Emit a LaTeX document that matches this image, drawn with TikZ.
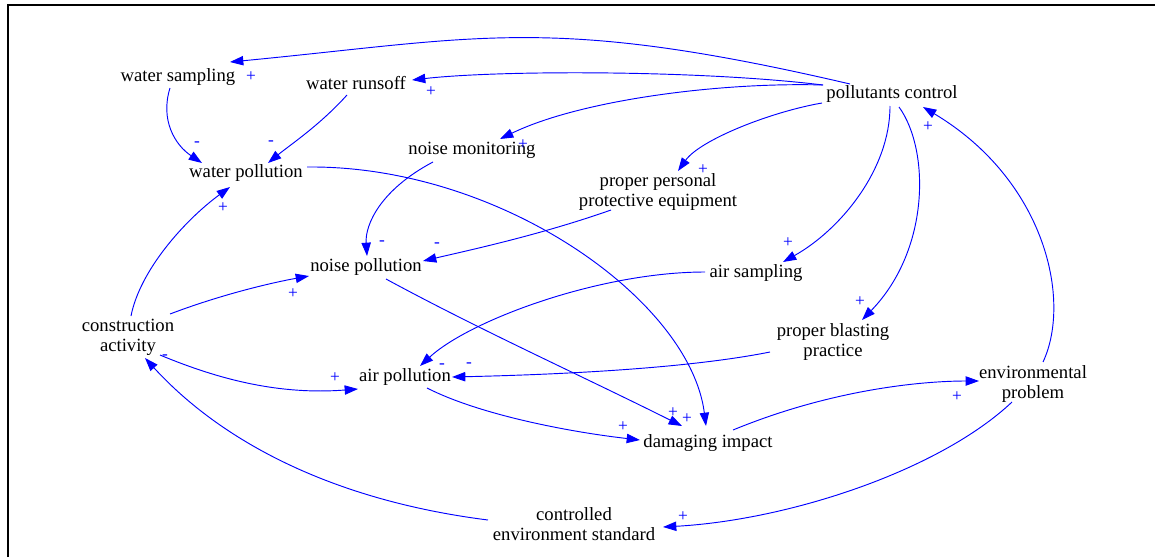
\documentclass[tikz,border=0pt]{standalone}
\usepackage{fontspec}
\setmainfont{Liberation Serif}
\usetikzlibrary{arrows.meta}
\begin{document}
\begin{tikzpicture}[x=0.75pt,y=-0.75pt,
  lbl/.style={inner sep=0pt, align=center, text=black, font=\fontsize{14}{15}\selectfont},
  sgn/.style={inner sep=0pt, text=blue, font=\fontsize{13}{14}\selectfont},
  arr/.style={draw=blue, line width=0.7pt, -{Triangle[length=10pt,width=7pt]}}]
\useasboundingbox (0,0) rectangle (1155,557);
\draw[line width=1.5pt] (7.5,557) -- (7.5,4.5) -- (1155,4.5);
% nodes
\node[lbl] (ws) at (178,77) {water sampling};
\node[lbl] (wr) at (356,83) {water runsoff};
\node[lbl] (wp) at (246,173) {water pollution};
\node[lbl] (pc) at (892,94) {pollutants control};
\node[lbl] (nm) at (472,150) {noise monitoring};
\node[lbl] (ppe) at (658,192) {proper personal\\protective equipment};
\node[lbl] (as) at (756,273) {air sampling};
\node[lbl] (np) at (366,267) {noise pollution};
\node[lbl] (ca) at (128,337) {construction\\activity};
\node[lbl] (ap) at (405,377) {air pollution};
\node[lbl] (pbp) at (833,342) {proper blasting\\practice};
\node[lbl] (ep) at (1033,384) {environmental\\problem};
\node[lbl] (di) at (708,443) {damaging impact};
\node[lbl] (ces) at (574,524) {controlled\\environment standard};
% connectors
\draw[arr] ([shift={(-42,-10)}]pc.center) .. controls (550,14) and (480,38) .. ([shift={(52,-15)}]ws.center);
\draw[arr] ([shift={(-69,-9)}]pc.center) .. controls (700,70) and (500,70) .. ([shift={(56,-3)}]wr.center);
\draw[arr] ([shift={(-69,-9)}]pc.center) .. controls (720,82) and (580,100) .. ([shift={(28,-11)}]nm.center);
\draw[arr] ([shift={(-70,9)}]pc.center) .. controls (770,112) and (700,140) .. ([shift={(20,-21)}]ppe.center);
\draw[arr] ([shift={(-2,12)}]pc.center) .. controls (890,170) and (840,230) .. ([shift={(27,-11)}]as.center);
\draw[arr] ([shift={(7,13)}]pc.center) .. controls (930,150) and (930,250) .. ([shift={(29,-22)}]pbp.center);
\draw[arr] ([shift={(10,-22)}]ep.center) .. controls (1072,300) and (1045,180) .. ([shift={(31,13)}]pc.center);
\draw[arr] ([shift={(-8,11)}]ws.center) .. controls (160,120) and (175,145) .. ([shift={(-44,-10)}]wp.center);
\draw[arr] ([shift={(-9,12)}]wr.center) .. controls (320,125) and (290,145) .. ([shift={(22,-10)}]wp.center);
\draw[arr] ([shift={(61,-6)}]wp.center) .. controls (500,165) and (690,300) .. ([shift={(-2,-17)}]di.center);
\draw[arr] ([shift={(-39,12)}]nm.center) .. controls (380,190) and (365,225) .. ([shift={(1,-11)}]np.center);
\draw[arr] ([shift={(-47,18)}]ppe.center) .. controls (540,235) and (470,250) .. ([shift={(57,-6)}]np.center);
\draw[arr] ([shift={(3,-21)}]ca.center) .. controls (140,270) and (185,220) .. ([shift={(-16,14)}]wp.center);
\draw[arr] ([shift={(42,-23)}]ca.center) .. controls (220,295) and (270,283) .. ([shift={(-57,9)}]np.center);
\draw[arr] ([shift={(32,18)}]ca.center) .. controls (220,380) and (280,395) .. ([shift={(-47,12)}]ap.center);
\draw[arr] ([shift={(20,12)}]np.center) .. controls (480,330) and (580,375) .. ([shift={(-26,-17)}]di.center);
\draw[arr] ([shift={(-51,-1)}]as.center) .. controls (600,272) and (470,320) .. ([shift={(15,-11)}]ap.center);
\draw[arr] ([shift={(-63,10)}]pbp.center) .. controls (680,370) and (540,375) .. ([shift={(47,0)}]ap.center);
\draw[arr] ([shift={(22,11)}]ap.center) .. controls (480,415) and (570,432) .. ([shift={(-68,-3)}]di.center);
\draw[arr] ([shift={(25,-13)}]di.center) .. controls (830,390) and (920,381) .. ([shift={(-54,-3)}]ep.center);
\draw[arr] ([shift={(-21,18)}]ep.center) .. controls (940,470) and (790,520) .. ([shift={(89,3)}]ces.center);
\draw[arr] ([shift={(-86,-4)}]ces.center) .. controls (330,500) and (220,440) .. ([shift={(17,21)}]ca.center);
% polarity signs
\node[sgn] (s1) at (251,77) {+};
\node[sgn] (s2) at (431,92) {+};
\node[sgn] (s3) at (197,144) {-};
\node[sgn] (s4) at (271,143) {-};
\node[sgn] (s5) at (223,208) {+};
\node[sgn] (s6) at (523,145) {+};
\node[sgn] (s7) at (703,170) {+};
\node[sgn] (s8) at (928,127) {+};
\node[sgn] (s9) at (788,243) {+};
\node[sgn] (s10) at (382,243) {-};
\node[sgn] (s11) at (437,245) {-};
\node[sgn] (s12) at (293,294) {+};
\node[sgn] (s13) at (860,302) {+};
\node[sgn] (s14) at (165,357) {-};
\node[sgn] (s15) at (335,378) {+};
\node[sgn] (s16) at (442,366) {-};
\node[sgn] (s17) at (469,365) {-};
\node[sgn] (s18) at (673,413) {+};
\node[sgn] (s19) at (687,419) {+};
\node[sgn] (s20) at (623,427) {+};
\node[sgn] (s21) at (957,397) {+};
\node[sgn] (s22) at (683,517) {+};
\end{tikzpicture}
\end{document}
